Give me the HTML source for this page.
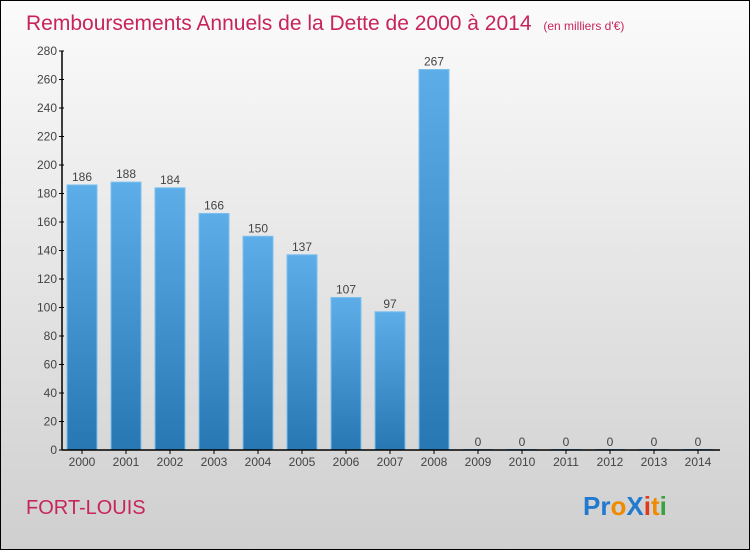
<!DOCTYPE html>
<html><head><meta charset="utf-8"><style>
body{margin:0}
#c{width:750px;height:550px;position:relative;background:linear-gradient(#fbfbfb,#cfcfcf);border:1px solid #000;box-sizing:border-box;font-family:"Liberation Sans",sans-serif;overflow:hidden}
</style></head><body>
<div id="c">
<svg width="750" height="550" style="position:absolute;left:-1px;top:-1px">
<defs><linearGradient id="g" x1="0" y1="0" x2="0" y2="1"><stop offset="0" stop-color="#5daee8"/><stop offset="1" stop-color="#2777b3"/></linearGradient></defs>
<text x="26" y="30" font-size="21" fill="#c8245a">Remboursements Annuels de la Dette de 2000 à 2014 <tspan font-size="12" dx="6">(en milliers d'€)</tspan></text>
<g id="bars"></g>
<g id="axes"></g>
<text x="26" y="514" font-size="20" fill="#c8245a">FORT-LOUIS</text>
<text x="583" y="515" font-size="26" font-weight="bold"><tspan fill="#1f7ad0">Pr</tspan><tspan fill="#f08a00">o</tspan><tspan fill="#1f7ad0">X</tspan><tspan fill="#e03a1a">i</tspan><tspan fill="#f08a00">t</tspan><tspan fill="#3aa040">i</tspan></text>
</svg>
</div>
<script>
const years=["2000","2001","2002","2003","2004","2005","2006","2007","2008","2009","2010","2011","2012","2013","2014"];
const values=[186,188,184,166,150,137,107,97,267,0,0,0,0,0,0];
const ticks=[0,20,40,60,80,100,120,140,160,180,200,220,240,260,280];
const NS="http://www.w3.org/2000/svg";
const y0=450,yTop=51,yMax=280,x0=62,step=44,bw=30;
const ys=v=>y0-(v/yMax)*(y0-yTop);
const xs=i=>x0+5+i*step;
const bars=document.getElementById('bars'),axes=document.getElementById('axes');
function mk(t,a,p){const e=document.createElementNS(NS,t);for(const k in a)e.setAttribute(k,a[k]);p.appendChild(e);return e;}
values.forEach((v,i)=>{
 const r=mk('rect',{x:xs(i),y:ys(v)-(v>0?0:1),width:bw,height:Math.max(y0-ys(v),1),fill:v>0?'url(#g)':'#5daee8',stroke:v>0?'#7cc0ef':'none','stroke-width':1},bars);
 
 
 const t=mk('text',{x:xs(i)+bw/2,y:ys(v)-4,'font-size':12,'text-anchor':'middle',fill:'#444'},bars);
 t.textContent=values[i];
 
 
 const xl=mk('text',{x:xs(i)+bw/2,y:y0+16,'font-size':12,'text-anchor':'middle',fill:'#444'},axes);
 xl.textContent=years[i];
 
 
 mk('line',{x1:xs(i)+bw/2,x2:xs(i)+bw/2,y1:y0,y2:y0+4,stroke:'#000'},axes);
});
ticks.forEach(t=>{
 mk('line',{x1:x0-3,x2:x0+2,y1:ys(t),y2:ys(t),stroke:'#000'},axes);
 const l=mk('text',{x:x0-5,y:ys(t)+4,'font-size':12,'text-anchor':'end',fill:'#444'},axes);
 l.textContent=t;
 
 
});
const ya=mk('line',{x1:x0,x2:x0,y1:yTop,y2:y0,stroke:'#000','stroke-width':1.5},axes);


const xa=mk('line',{x1:x0,x2:x0+step*15-2,y1:y0,y2:y0,stroke:'#000','stroke-width':1.5},axes);


</script>
</body></html>
